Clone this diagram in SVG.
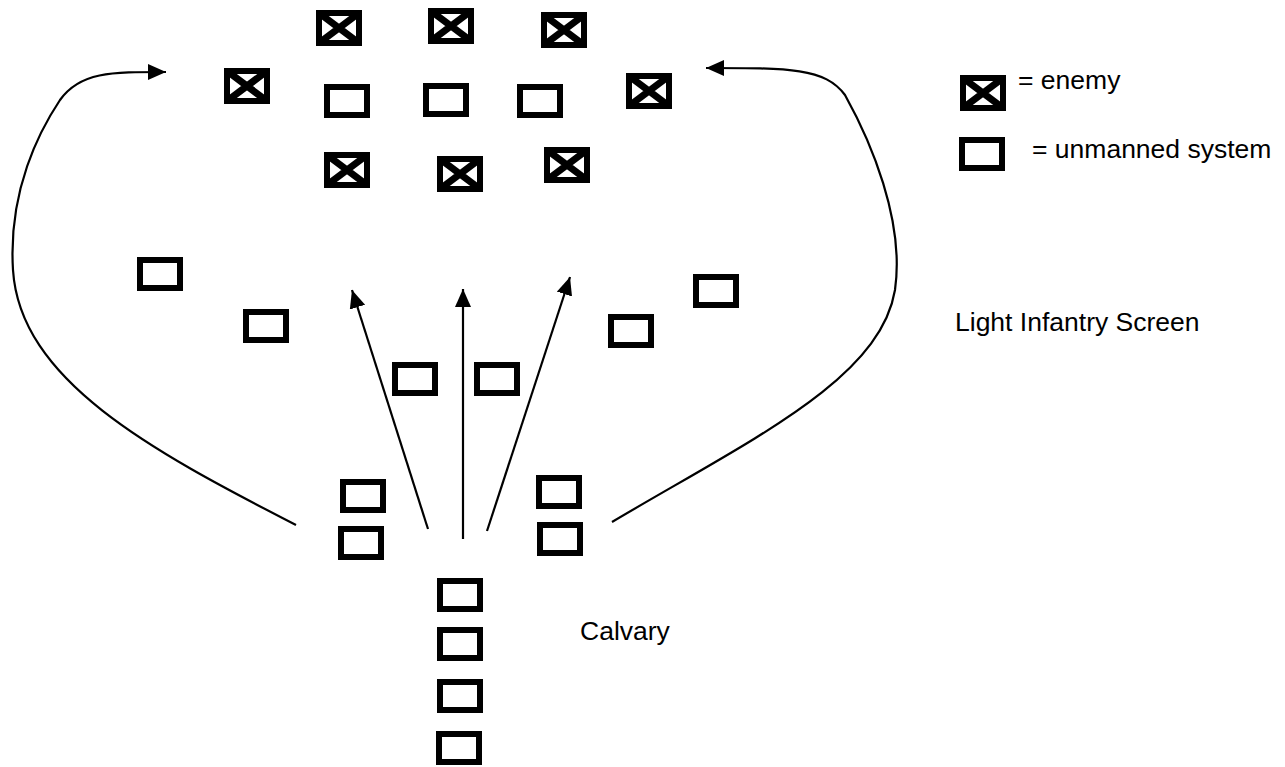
<svg xmlns="http://www.w3.org/2000/svg" xmlns:xlink="http://www.w3.org/1999/xlink" width="1285" height="767" viewBox="0 0 1285 767">
  <style>
    .box { fill: #fff; stroke: #000; stroke-width: 6; }
    .cross { fill: none; stroke: #000; stroke-width: 7; }
    .conn { fill: none; stroke: #000; stroke-width: 2.2; }
    .label { font-family: "Liberation Sans", Arial, sans-serif; font-size: 26.5px; fill: #000; }
  </style>
  <defs>
    <!-- friendly unmanned system: thick-outlined rectangle, 46 x 34 outer -->
    <g id="unmanned">
      <rect class="box" x="3" y="3" width="40" height="28"/>
    </g>
    <!-- enemy: thick-outlined rectangle with a diagonal cross, 46 x 36 outer -->
    <clipPath id="enemy-clip">
      <rect x="0" y="0" width="46" height="36"/>
    </clipPath>
    <g id="enemy">
      <rect class="box" x="3" y="3" width="40" height="30"/>
      <path class="cross" clip-path="url(#enemy-clip)" d="M3,3 L43,33 M43,3 L3,33"/>
    </g>
    <marker id="head" markerUnits="userSpaceOnUse" markerWidth="19" markerHeight="17" refX="18" refY="8" orient="auto">
      <path d="M0,0 L18,8 L0,16 z" fill="#000"/>
    </marker>
  </defs>

  <!-- connectors -->
  <g id="connectors">
    <path id="flank-left" class="conn" marker-end="url(#head)" d="M296,525 C150,450 20,380 13,270 C8,190 40,130 60,100 C80,72 110,72 166,72"/>
    <path id="flank-right" class="conn" marker-end="url(#head)" d="M612,522 C750,440 880,380 895,290 C905,220 870,140 845,95 C825,68 790,68 706,68"/>
    <line id="advance-left" class="conn" marker-end="url(#head)" x1="428" y1="529" x2="352" y2="290"/>
    <line id="advance-center" class="conn" marker-end="url(#head)" x1="463" y1="539" x2="463" y2="289"/>
    <line id="advance-right" class="conn" marker-end="url(#head)" x1="487" y1="531" x2="570" y2="277"/>
  </g>

  <!-- enemy formation -->
  <g id="enemy-1"><use xlink:href="#enemy" x="316" y="10"/></g>
  <g id="enemy-2"><use xlink:href="#enemy" x="428" y="8"/></g>
  <g id="enemy-3"><use xlink:href="#enemy" x="541" y="12"/></g>
  <g id="enemy-4"><use xlink:href="#enemy" x="224" y="68"/></g>
  <g id="enemy-5"><use xlink:href="#enemy" x="626" y="73"/></g>
  <g id="enemy-6"><use xlink:href="#enemy" x="324" y="152"/></g>
  <g id="enemy-7"><use xlink:href="#enemy" x="437" y="156"/></g>
  <g id="enemy-8"><use xlink:href="#enemy" x="544" y="147"/></g>

  <!-- unmanned systems inside the enemy formation -->
  <g id="embedded-1"><use xlink:href="#unmanned" x="324" y="84"/></g>
  <g id="embedded-2"><use xlink:href="#unmanned" x="423" y="83"/></g>
  <g id="embedded-3"><use xlink:href="#unmanned" x="517" y="84"/></g>

  <!-- light infantry screen -->
  <g id="screen-1"><use xlink:href="#unmanned" x="137" y="257"/></g>
  <g id="screen-2"><use xlink:href="#unmanned" x="243" y="309"/></g>
  <g id="screen-3"><use xlink:href="#unmanned" x="392" y="362"/></g>
  <g id="screen-4"><use xlink:href="#unmanned" x="474" y="362"/></g>
  <g id="screen-5"><use xlink:href="#unmanned" x="608" y="314"/></g>
  <g id="screen-6"><use xlink:href="#unmanned" x="693" y="274"/></g>
  <g id="screen-label"><text class="label" x="955" y="331">Light Infantry Screen</text></g>

  <!-- cavalry -->
  <g id="cav-left-1"><use xlink:href="#unmanned" x="340" y="479"/></g>
  <g id="cav-left-2"><use xlink:href="#unmanned" x="338" y="526"/></g>
  <g id="cav-right-1"><use xlink:href="#unmanned" x="536" y="475"/></g>
  <g id="cav-right-2"><use xlink:href="#unmanned" x="537" y="522"/></g>
  <g id="cav-column-1"><use xlink:href="#unmanned" x="437" y="578"/></g>
  <g id="cav-column-2"><use xlink:href="#unmanned" x="437" y="627"/></g>
  <g id="cav-column-3"><use xlink:href="#unmanned" x="437" y="679"/></g>
  <g id="cav-column-4"><use xlink:href="#unmanned" x="436" y="731"/></g>
  <g id="cav-label"><text class="label" x="580" y="640">Calvary</text></g>

  <!-- legend -->
  <g id="legend-enemy">
    <use xlink:href="#enemy" x="960" y="75"/>
    <text class="label" x="1018" y="89">= enemy</text>
  </g>
  <g id="legend-unmanned">
    <use xlink:href="#unmanned" x="959" y="137"/>
    <text class="label" x="1032" y="158">= unmanned system</text>
  </g>
</svg>
